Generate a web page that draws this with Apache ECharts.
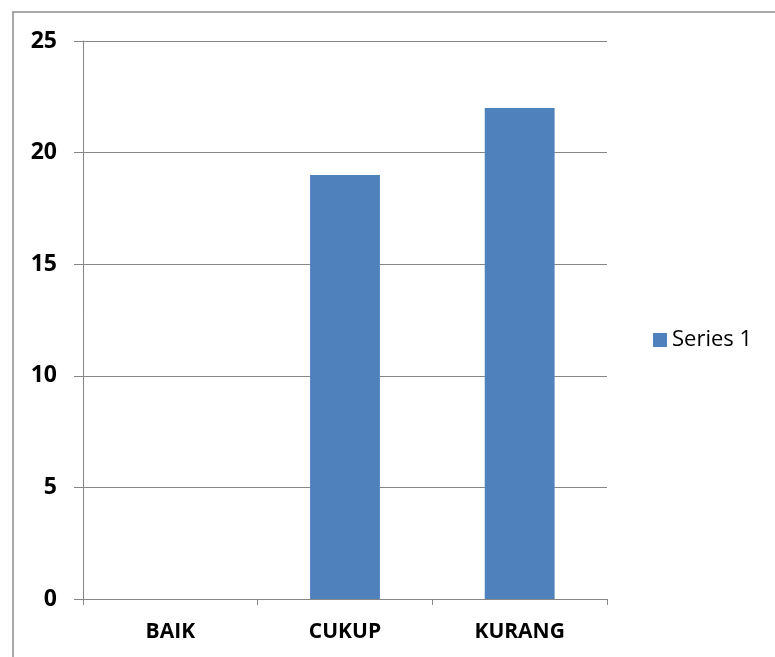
<!DOCTYPE html>
<html>
<head>
<meta charset="utf-8">
<script src="https://cdn.jsdelivr.net/npm/echarts@6/dist/echarts.min.js"></script>
<style>
  html, body { margin: 0; padding: 0; background: #fff; }
  #chart { width: 775px; height: 657px; }
</style>
</head>
<body>
<div id="chart"></div>
<script>
// Chart data
const categories = ['BAIK', 'CUKUP', 'KURANG'];
const seriesName = 'Series 1';
const seriesValues = [0, 19, 22];
const yMin = 0, yMax = 25, yStep = 5;

const chart = echarts.init(document.getElementById('chart'));
const gridColor = '#868686';
const labelFont = '"Open Sans", "Liberation Sans", sans-serif';

chart.setOption({
  animation: false,
  graphic: [{
    type: 'rect',
    shape: { x: 13, y: 12, width: 800, height: 700 },
    style: { fill: 'none', stroke: '#8c8c8c', lineWidth: 1.5 },
    silent: true
  }],
  legend: {
    data: [seriesName],
    left: 648,
    top: 324,
    orient: 'vertical',
    icon: 'rect',
    itemWidth: 14,
    itemHeight: 14,
    itemGap: 9,
    textStyle: { fontFamily: labelFont, fontSize: 22, color: '#000' }
  },
  grid: { left: 83, right: 168, top: 41, bottom: 58, containLabel: false },
  xAxis: {
    type: 'category',
    data: categories,
    axisLine: { lineStyle: { color: gridColor, width: 1 } },
    axisTick: { show: true, length: 6, lineStyle: { color: gridColor } },
    axisLabel: { color: '#000', fontFamily: labelFont, fontWeight: 'bold', fontSize: 21, margin: 23 }
  },
  yAxis: {
    type: 'value',
    min: yMin,
    max: yMax,
    interval: yStep,
    axisLine: { show: true, lineStyle: { color: gridColor, width: 1 } },
    axisTick: { show: true, inside: false, length: 9, lineStyle: { color: gridColor } },
    splitLine: { lineStyle: { color: gridColor, width: 1 } },
    axisLabel: { color: '#000', fontFamily: labelFont, fontWeight: 'bold', fontSize: 23, margin: 26 }
  },
  series: [{
    name: seriesName,
    type: 'bar',
    data: seriesValues,
    barWidth: '40%',
    itemStyle: { color: '#4F81BD', borderWidth: 0 }
  }]
});
</script>
</body>
</html>
